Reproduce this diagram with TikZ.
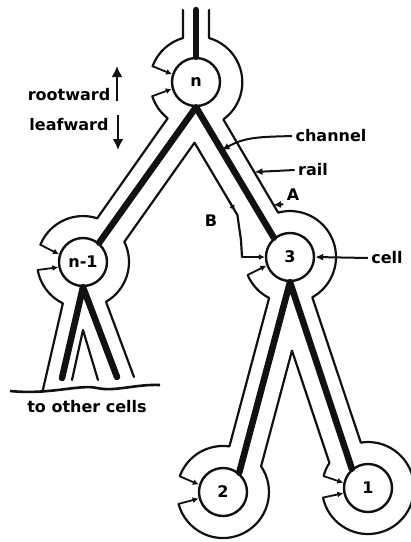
\documentclass[tikz,border=0pt]{standalone}
\usepackage{fontspec}
\newfontfamily\treefont{DejaVu Sans}
\usetikzlibrary{arrows.meta}

\definecolor{treeink}{HTML}{111111}

\begin{document}
\begin{tikzpicture}[
  x=1pt,y=1pt,
  font=\treefont\bfseries\fontsize{16}{18}\selectfont,
  cell/.style={draw=treeink,circle,line width=2.4pt,minimum size=48pt,
               inner sep=0pt,fill=white},
  rail/.style={draw=treeink,line width=2.2pt,line join=round,line cap=round},
  chan/.style={draw=treeink,line width=6.5pt,line join=round,line cap=round},
  port/.style={draw=treeink,line width=1.8pt,-{Latex[length=6pt,width=6pt]}},
  pointer/.style={draw=treeink,line width=2pt,-{Latex[length=8pt,width=7pt]}},
  dirarrow/.style={draw=treeink,line width=2pt,-{Latex[length=11pt,width=11pt]}}
]
  \path[use as bounding box] (0,0) rectangle (411,-542);

  % cells of the tree
  \node[cell] (n)  at (196,-82)  {n};
  \node[cell] (n1) at (83,-262)  {n-1};
  \node[cell] (c3) at (290,-257) {3};
  \node[cell] (c2) at (223,-492) {2};
  \node[cell] (c1) at (368,-488) {1};
  \coordinate (top) at (196,-10);
  \coordinate (leafL) at (62,-378);
  \coordinate (leafR) at (117,-377);

  % channels
  \draw[chan] (top) -- (n.north);
  \draw[chan] (n1.50) -- (n.south) -- (c3.130);
  \draw[chan] (leafL) -- (n1.south) -- (leafR);
  \draw[chan] (c2.50) -- (c3.south) -- (c1.130);

  % rails round the channels and cells
  \draw[rail] (183,-10) -- (183,-38) arc[start angle=106,end angle=160,radius=46];
  \draw[rail] ([shift={(198:46)}]n.center) arc[start angle=198,end angle=232,radius=46]
    -- (97.2,-218.3) arc[start angle=72,end angle=158,radius=46];
  \draw[rail] (209,-10) -- (209,-38) arc[start angle=74,end angle=-54,radius=46]
    -- (278.1,-212.6) arc[start angle=105,end angle=-61,radius=46]
    -- (360.8,-442.6) arc[start angle=99,end angle=-168,radius=46];
  \draw[rail] (134,-377) -- (106,-301.8) arc[start angle=-60,end angle=26,radius=46]
    -- (194.5,-142.7) -- (237.4,-215) -- (241,-240) -- (242,-257);
  \draw[rail] ([shift={(190:46)}]n1.center) arc[start angle=190,end angle=244,radius=46]
    -- (42.4,-392);
  \draw[rail] (72,-380) -- (83,-330) -- (98,-380);
  \draw[rail] ([shift={(203:46)}]c3.center) arc[start angle=203,end angle=243,radius=46]
    -- (229.4,-446.4) arc[start angle=82,end angle=160,radius=46];
  \draw[rail] ([shift={(165:46)}]c1.center) arc[start angle=165,end angle=147,radius=46]
    -- (292,-350.6) -- (261.1,-466.3) arc[start angle=34,end angle=-165,radius=46];

  % ports into the cells
  \draw[port] ([shift={(160:46)}]n.center) -- (n.162);
  \draw[port] ([shift={(198:46)}]n.center) -- (n.196);
  \draw[port] ([shift={(158:46)}]n1.center) -- (n1.162);
  \draw[port] ([shift={(190:46)}]n1.center) -- (n1.192);
  \draw[port] ([shift={(180:48)}]c3.center) -- (c3.180);
  \draw[port] ([shift={(203:46)}]c3.center) -- (c3.200);
  \draw[port] ([shift={(160:46)}]c2.center) -- (c2.163);
  \draw[port] ([shift={(-165:46)}]c2.center) -- (c2.195);
  \draw[port] ([shift={(165:46)}]c1.center) -- (c1.168);
  \draw[port] ([shift={(-168:46)}]c1.center) -- (c1.192);

  % labels
  \node (rw) at (69,-95) {rootward};
  \node (lw) at (69,-125) {leafward};
  \draw[dirarrow] (117,-101) -- (117,-66);
  \draw[dirarrow] (118,-115) -- (118,-150);

  \node (chlab) at (331,-136) {channel};
  \path (n.south) -- (c3.130) coordinate[pos=.33] (chpt);
  \draw[pointer] (chlab.west) to[out=182,in=30] (chpt);

  \node (raillab) at (313,-170) {rail};
  \coordinate (railpt) at (254.5,-172);
  \draw[pointer] (raillab.west) -- (railpt);

  \node (alab) at (293,-195) {A};
  \coordinate (apt) at (273,-205);
  \draw[pointer] (alab.south west) -- (apt);

  \node (blab) at (211,-221) {B};
  \coordinate (bpt1) at (228.5,-200);
  \coordinate (bpt2) at (235,-211);
  \draw[port] (bpt1) -- (bpt2);

  \node (celllab) at (387,-258) {cell};
  \draw[pointer] (celllab.west) -- (c3.east);

  \draw[treeink,line width=2.6pt] (10,-391) .. controls (50,-395) and (80,-384) .. (97,-388)
    .. controls (115,-392) and (135,-384) .. (160,-385);
  \node (others) at (87,-407) {to other cells};
\end{tikzpicture}
\end{document}
